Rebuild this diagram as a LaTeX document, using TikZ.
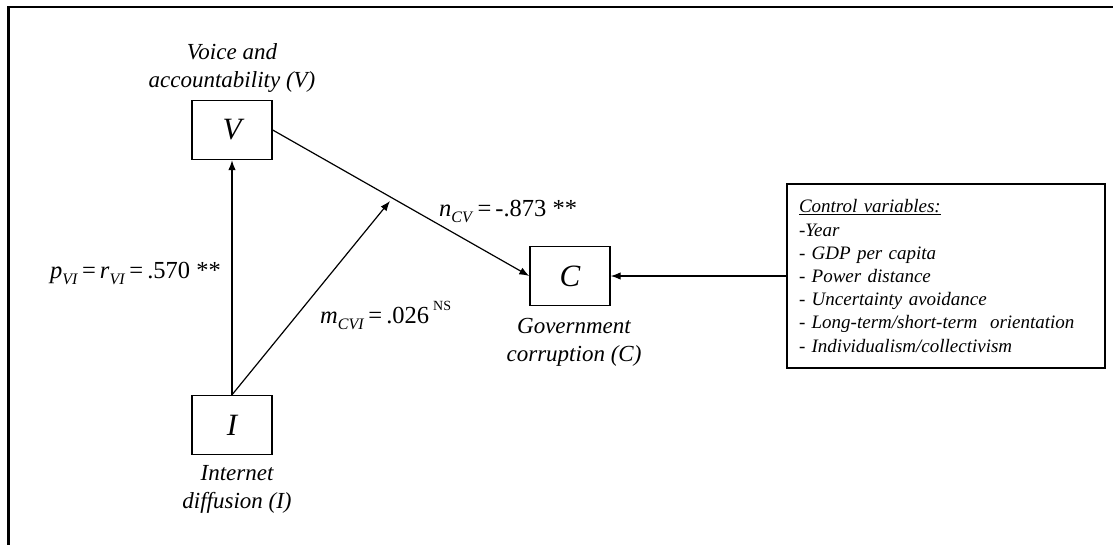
\documentclass[tikz,border=0pt]{standalone}
\usepackage{fontspec}
\setmainfont{Liberation Serif}
\usetikzlibrary{arrows.meta,calc}
% small lowered index and raised upright mark for the path coefficients
\newcommand\lowsub[1]{\raisebox{-0.28em}{\fontsize{16}{16}\selectfont #1}}
\newcommand\highsup[1]{\raisebox{0.5em}{\fontsize{14}{14}\selectfont\upshape #1}}
\begin{document}
\begin{tikzpicture}[x=1pt,y=-1pt,
  varbox/.style={draw,line width=1.4pt,minimum width=80pt,minimum height=59pt,
    inner sep=0pt,font=\fontsize{31}{31}\selectfont\itshape},
  caption/.style={align=center,inner sep=0pt,font=\fontsize{23}{28}\selectfont\itshape},
  coef/.style={inner sep=0pt,font=\fontsize{24.5}{24}\selectfont},
  conn/.style={line width=1.2pt,-{Latex[length=10pt,width=7.5pt]}},
  ctrlbox/.style={draw,line width=1.2pt,minimum width=318pt,minimum height=184pt,
    text width=294pt,inner xsep=12pt,align=left,
    font=\fontsize{19}{23.2}\selectfont\itshape},
  ]
\useasboundingbox (0,0) rectangle (1113,544);

% outer frame (open to the right and bottom)
\draw[line width=2.2pt] (8.5,560) -- (8.5,7) -- (1125,7);

% variables
\node[varbox] (V) at (232,130) {V};
\node[varbox] (I) at (232,425) {I};
\node[varbox] (C) at (570,276) {C};

% captions
\node[caption] (Vcap) at (232,68) {Voice and\\accountability (\textit{V})};
\node[caption] (Icap) at (237,489) {Internet\\diffusion (\textit{I})};
\node[caption] (Ccap) at (574,342) {Government\\corruption (\textit{C})};

% control variables
\node[ctrlbox] (K) at (946,276) {\underline{Control variables:}\\
  -Year\\
  - GDP per capita\\
  - Power distance\\
  - Uncertainty avoidance\\
  - Long-term/short-term~ orientation\\
  - Individualism/collectivism};

% paths
\coordinate (M) at (390,201);
\draw[conn] (I.north) -- (V.south);
\draw[conn] (V.east) -- (C.west);
\draw[conn] (I.north) -- (M);
\draw[conn] (K.west) -- (C.east);

% coefficients
\node[coef,anchor=base east] (pvi) at (221,278)
  {\textit{p}\lowsub{\textit{VI}}\,=\,\textit{r}\lowsub{\textit{VI}}\,=\,.570 **};
\node[coef,anchor=base west] (mcvi) at (320,323)
  {\textit{m}\lowsub{\textit{CVI}}\,=\,.026\,\highsup{NS}};
\node[coef,anchor=base west] (ncv) at (439,216)
  {\textit{n}\lowsub{\textit{CV}}\,=\,-.873 **};
\end{tikzpicture}
\end{document}
